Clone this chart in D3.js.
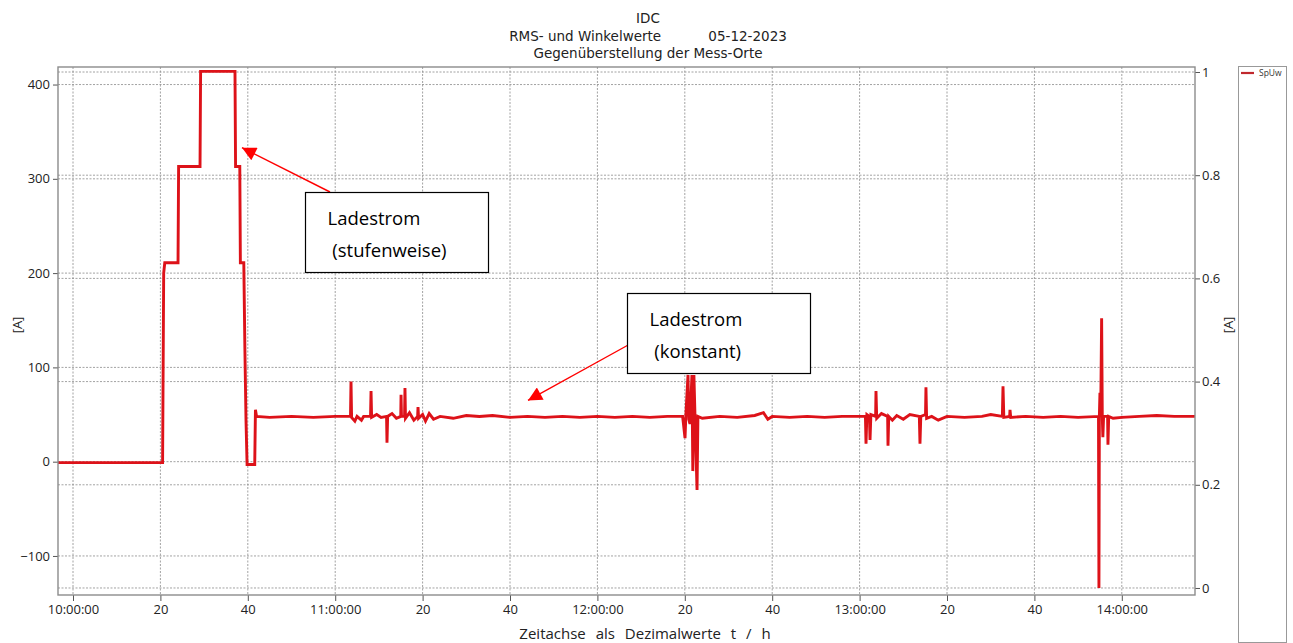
<!DOCTYPE html>
<html>
<head>
<meta charset="utf-8">
<script src="https://cdn.jsdelivr.net/npm/d3@7"></script>
<style>
  body { margin: 0; background: #fff; }
  svg { display: block; }
</style>
</head>
<body>
<div id="chart"></div>
<script>
// IDC charging current, 05-12-2023 (time, value in A)
var times = [
  "09:56:34", "10:00:00", "10:10:00", "10:20:30", "10:20:45", "10:21:00",
  "10:24:02", "10:24:10", "10:29:04", "10:29:12", "10:37:04", "10:37:12",
  "10:38:10", "10:38:18", "10:39:05", "10:39:20", "10:39:35", "10:39:50",
  "10:41:35", "10:41:45", "10:42:00", "10:45:00", "10:50:00", "10:55:00",
  "11:00:00", "11:03:30", "11:03:37", "11:03:45", "11:04:30", "11:05:00",
  "11:06:00", "11:06:30", "11:08:05", "11:08:12", "11:08:20", "11:09:30",
  "11:10:30", "11:11:45", "11:11:51", "11:12:00", "11:13:00", "11:14:00",
  "11:15:00", "11:15:04", "11:15:10", "11:15:52", "11:15:58", "11:16:05",
  "11:17:00", "11:18:00", "11:18:52", "11:18:57", "11:19:05", "11:20:00",
  "11:20:40", "11:21:30", "11:22:30", "11:24:00", "11:27:00", "11:30:00",
  "11:33:00", "11:36:00", "11:40:00", "11:44:00", "11:48:00", "11:52:00",
  "11:56:00", "12:00:00", "12:04:00", "12:08:00", "12:12:00", "12:16:00",
  "12:19:30", "12:20:03", "12:20:15", "12:20:44", "12:20:55", "12:21:11",
  "12:21:38", "12:21:50", "12:22:05", "12:22:20", "12:22:48", "12:23:00",
  "12:24:00", "12:28:00", "12:32:00", "12:36:00", "12:38:00", "12:39:00",
  "12:40:00", "12:44:00", "12:48:00", "12:52:00", "12:56:00", "13:00:00",
  "13:01:20", "13:01:28", "13:01:40", "13:02:15", "13:02:23", "13:02:35",
  "13:03:40", "13:03:45", "13:03:55", "13:05:00", "13:06:25", "13:06:30",
  "13:06:40", "13:07:30", "13:08:30", "13:10:00", "13:11:30", "13:13:40",
  "13:13:49", "13:14:00", "13:15:05", "13:15:11", "13:15:20", "13:16:30",
  "13:18:00", "13:20:00", "13:24:00", "13:28:00", "13:30:00", "13:32:40",
  "13:32:49", "13:33:00", "13:34:20", "13:34:25", "13:34:35", "13:38:00",
  "13:42:00", "13:46:00", "13:50:00", "13:54:40", "13:54:46", "13:54:52",
  "13:55:00", "13:55:10", "13:55:23", "13:55:32", "13:55:40", "13:55:50",
  "13:56:45", "13:56:50", "13:57:00", "13:58:00", "14:00:00", "14:04:00",
  "14:08:00", "14:12:00", "14:16:45"
];
var values = [
  -1, -1, -1, -1, 200, 211,
  211, 313, 313, 414, 414, 313,
  313, 211, 211, 120, 45, -3,
  -3, 55, 48, 47, 48, 47,
  48, 48, 85, 47, 43, 48,
  44, 48, 48, 75, 47, 50,
  47, 48, 20, 48, 51, 46,
  48, 71, 48, 48, 78, 46,
  52, 44, 48, 58, 46, 50,
  43, 51, 45, 48, 46, 49,
  48, 49, 47, 48, 47, 48,
  47, 48, 47, 48, 47, 48,
  48, 25, 50, 92, 45, 40,
  92, -10, 92, 48, -30, 48,
  46, 48, 47, 49, 52, 45,
  48, 47, 48, 47, 48, 48,
  48, 19, 50, 48, 23, 50,
  48, 75, 46, 51, 48, 17,
  48, 44, 49, 45, 50, 48,
  19, 48, 50, 79, 46, 48,
  44, 48, 47, 48, 50, 48,
  80, 47, 48, 55, 47, 48,
  47, 48, 47, 48, -134, 48,
  73, 48, 152, 48, 26, 48,
  48, 18, 48, 46, 47, 48,
  49, 48, 48
];

var leftTicks = [-100, 0, 100, 200, 300, 400];
var rightTicks = [0, 0.2, 0.4, 0.6, 0.8, 1];
var titleLines = ["IDC", "RMS- und Winkelwerte           05-12-2023", "Gegenüberstellung der Mess-Orte"];
var seriesName = "SpUw";

var width = 1293, height = 643;
var margin = {top: 67, right: 98, bottom: 48, left: 58};
var plotW = width - margin.left - margin.right,
    plotH = height - margin.top - margin.bottom;

var parseTime = d3.timeParse("%H:%M:%S");
var data = times.map(function (t, i) {
    return {t: parseTime(t), v: values[i]};
});

var x = d3.scaleTime()
    .domain([parseTime("09:56:34"), parseTime("14:16:45")])
    .range([0, plotW]);
var y = d3.scaleLinear().domain([-141.4, 418.6]).range([plotH, 0]);
var y2 = d3.scaleLinear().domain([-0.0136, 1.0097]).range([plotH, 0]);

var svg = d3.select("#chart").append("svg")
    .attr("width", width)
    .attr("height", height)
    .style("font-family", "'Open Sans', sans-serif");

// title
svg.append("g").selectAll("text")
    .data(titleLines)
    .enter().append("text")
    .attr("x", 648)
    .attr("y", function (d, i) { return 23 + i * 17.5; })
    .attr("text-anchor", "middle")
    .attr("xml:space", "preserve")
    .style("font-family", "'DejaVu Sans', sans-serif")
    .style("font-size", "13.5px")
    .style("fill", "#222")
    .style("white-space", "pre")
    .text(function (d) { return d; });

var g = svg.append("g")
    .attr("transform", "translate(" + margin.left + "," + margin.top + ")");

g.append("clipPath").attr("id", "clip")
    .append("rect").attr("width", plotW).attr("height", plotH);

// grid
var xTicks = d3.timeMinute.every(20).range(parseTime("10:00:00"), parseTime("14:16:00"));
var grid = g.append("g")
    .style("stroke", "#8a8a8a")
    .style("stroke-width", 0.8)
    .style("stroke-dasharray", "2,1.5");
grid.selectAll(".gx").data(xTicks).enter().append("line")
    .attr("x1", function (d) { return x(d); }).attr("x2", function (d) { return x(d); })
    .attr("y1", 0).attr("y2", plotH);
grid.selectAll(".gy").data(leftTicks).enter().append("line")
    .attr("x1", 0).attr("x2", plotW)
    .attr("y1", function (d) { return y(d); }).attr("y2", function (d) { return y(d); });
grid.selectAll(".gy2").data(rightTicks).enter().append("line")
    .attr("x1", 0).attr("x2", plotW)
    .attr("y1", function (d) { return y2(d); }).attr("y2", function (d) { return y2(d); });

// series
var line = d3.line()
    .x(function (d) { return x(d.t); })
    .y(function (d) { return y(d.v); });

g.append("path")
    .datum(data)
    .attr("clip-path", "url(#clip)")
    .attr("d", line)
    .style("fill", "none")
    .style("stroke", "#dd1219")
    .style("stroke-width", 2.9)
    .style("stroke-linejoin", "miter");

// axes
function styleAxis(sel) {
    sel.select(".domain").remove();
    sel.selectAll(".tick line").style("stroke", "#555");
    sel.selectAll(".tick text").style("font-size", "13px").style("fill", "#222")
        .style("font-family", "'Open Sans', sans-serif");
}

g.append("g")
    .attr("transform", "translate(0," + plotH + ")")
    .call(d3.axisBottom(x).tickValues(xTicks).tickSize(6).tickPadding(4)
        .tickFormat(function (d) {
            return d.getMinutes() === 0 ? d3.timeFormat("%H:%M:%S")(d) : d3.timeFormat("%M")(d);
        }))
    .call(styleAxis);

g.append("g")
    .call(d3.axisLeft(y).tickValues(leftTicks).tickSize(5).tickPadding(3))
    .call(styleAxis);

g.append("g")
    .attr("transform", "translate(" + plotW + ",0)")
    .call(d3.axisRight(y2).tickValues(rightTicks).tickSize(5).tickPadding(2)
        .tickFormat(function (d) { return d3.format("")(d); }))
    .call(styleAxis);

// frame
g.append("rect")
    .attr("width", plotW).attr("height", plotH)
    .style("fill", "none").style("stroke", "#8c8c8c").style("stroke-width", 1.4);

// axis titles
svg.append("text")
    .attr("transform", "translate(22,325) rotate(-90)")
    .attr("text-anchor", "middle")
    .style("font-size", "13px").style("fill", "#222")
    .text("[A]");
svg.append("text")
    .attr("transform", "translate(1233,325) rotate(-90)")
    .attr("text-anchor", "middle")
    .style("font-size", "13px").style("fill", "#222")
    .text("[A]");
svg.append("text")
    .attr("x", 645).attr("y", 639)
    .attr("text-anchor", "middle")
    .style("font-size", "15px").style("fill", "#222")
    .style("word-spacing", "6px")
    .text("Zeitachse als Dezimalwerte t / h");

// legend
var legend = svg.append("g");
legend.append("rect")
    .attr("x", 1238.5).attr("y", 66.5).attr("width", 48).attr("height", 576)
    .style("fill", "#fff").style("stroke", "#999").style("stroke-width", 1);
legend.append("line")
    .attr("x1", 1241).attr("x2", 1254).attr("y1", 73).attr("y2", 73)
    .style("stroke", "#c0282d").style("stroke-width", 2.2);
legend.append("text")
    .attr("x", 1259).attr("y", 76)
    .style("font-size", "8.5px").style("fill", "#333")
    .text(seriesName);

// annotations
var defs = svg.append("defs");
defs.append("marker")
    .attr("id", "head")
    .attr("viewBox", "0 0 10 10")
    .attr("refX", 10).attr("refY", 5)
    .attr("markerWidth", 17).attr("markerHeight", 14)
    .attr("markerUnits", "userSpaceOnUse")
    .attr("orient", "auto")
    .append("path").attr("d", "M0,0L10,5L0,10Z").style("fill", "#ff0000");

var notes = [
    {box: [305.5, 192.5, 183, 80], lines: ["Ladestrom", " (stufenweise)"], from: [330, 192],
     t: "10:38:40", v: 333},
    {box: [627.5, 293.5, 183, 80], lines: ["Ladestrom", " (konstant)"], from: [630, 344],
     t: "11:44:07", v: 65}
];

notes.forEach(function (n) {
    var tx = margin.left + x(parseTime(n.t)), ty = margin.top + y(n.v);
    svg.append("line")
        .attr("x1", n.from[0]).attr("y1", n.from[1])
        .attr("x2", tx).attr("y2", ty)
        .style("stroke", "#ff0000").style("stroke-width", 1.4)
        .attr("marker-end", "url(#head)");
    svg.append("rect")
        .attr("x", n.box[0]).attr("y", n.box[1])
        .attr("width", n.box[2]).attr("height", n.box[3])
        .style("fill", "#fff").style("stroke", "#000").style("stroke-width", 1.2);
    svg.append("g").selectAll("text")
        .data(n.lines)
        .enter().append("text")
        .attr("x", n.box[0] + 22)
        .attr("y", function (d, i) { return n.box[1] + 32 + i * 32; })
        .attr("xml:space", "preserve")
        .style("font-size", "18.5px")
        .style("fill", "#000")
        .text(function (d) { return d; });
});
</script>
</body>
</html>
